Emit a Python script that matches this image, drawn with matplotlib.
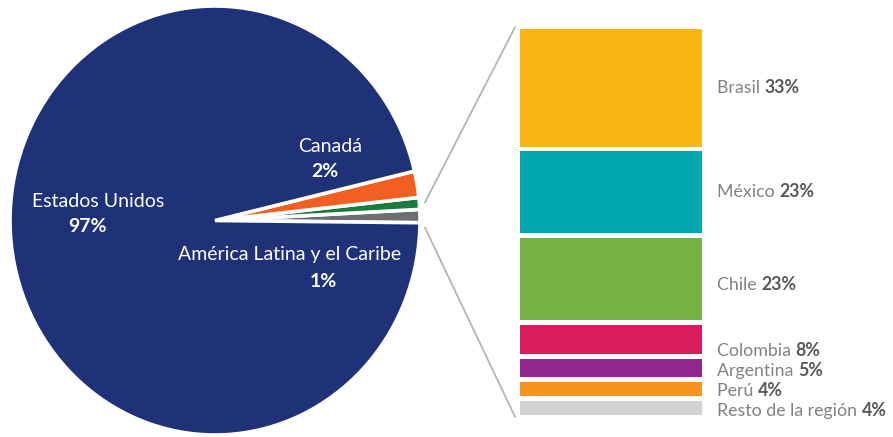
import matplotlib
matplotlib.use("Agg")
import matplotlib.pyplot as plt
from matplotlib.patches import ConnectionPatch

plt.rcParams['font.family'] = ['Lato', 'DejaVu Sans']

# pie: share by region (counterclockwise from the right)
pie_names = ["América Latina y el Caribe", "", "Canadá", "Estados Unidos"]
pie_values = [1, 0.9, 2, 97]
pie_pcts = ["1%", "", "2%", "97%"]
pie_colors = ["#6d6e71", "#1b7a3e", "#f15f22", "#1f3278"]

# breakdown of América Latina y el Caribe
bar_names = ["Brasil", "México", "Chile", "Colombia", "Argentina", "Perú", "Resto de la región"]
bar_values = [33, 23, 23, 8, 5, 4, 4]
bar_colors = ["#fbb616", "#02a6ae", "#76b243", "#da1c5a", "#92278f", "#f7941d", "#d1d3d4"]

W, H = 893, 437
fig = plt.figure(figsize=(W / 100, H / 100), dpi=100)


def px_axes(x0, y0, x1, y1):
    return fig.add_axes([x0 / W, 1 - y1 / H, (x1 - x0) / W, (y1 - y0) / H])


ax_pie = px_axes(10, 6, 420, 435)
ax_pie.pie(pie_values, colors=pie_colors, startangle=-0.6,
           wedgeprops=dict(edgecolor="white", linewidth=2.6))
ax_pie.set_xlim(-1, 1)
ax_pie.set_ylim(-1, 1)
ax_pie.set_aspect("auto")
ax_pie.axis("off")

txt = dict(color="white", fontsize=14, ha="center", va="center")
ax_pie.text(-0.57, 0.09, pie_names[3], **txt)
ax_pie.text(-0.62, -0.03, pie_pcts[3], fontweight="bold", **txt)
ax_pie.text(0.56, 0.345, pie_names[2], **txt)
ax_pie.text(0.537, 0.228, pie_pcts[2], fontweight="bold", **txt)
ax_pie.text(0.366, -0.159, pie_names[0], **txt)
ax_pie.text(0.527, -0.284, pie_pcts[0], fontweight="bold", **txt)

# stacked bar
ax_bar = px_axes(520, 29, 702, 415)
gap = 1.4
bottoms = []
b = 0
for v in bar_values:
    bottoms.append(b)
    b += v + gap
total = b - gap
for v, b0, c in zip(bar_values, bottoms, bar_colors):
    ax_bar.bar(0, v, bottom=b0, width=1, color=c, edgecolor="none")
ax_bar.set_xlim(-0.5, 0.5)
ax_bar.set_ylim(total, 0)
ax_bar.axis("off")

tr = ax_bar.get_yaxis_transform()
n_small = 4
for i, (name, v, b0) in enumerate(zip(bar_names, bar_values, bottoms)):
    if i < len(bar_names) - n_small:
        y = b0 + v / 2 + (1.5 if i == 2 else 0)
    else:
        k = len(bar_names) - 1 - i
        y = total - 1.2 - k * 5.6
    t = ax_bar.text(1.082, y, name + " ", transform=tr, color="#808285",
                    fontsize=12.8, ha="left", va="center", clip_on=False)
    ax_bar.annotate(f"{v}%", xy=(1, 0), xycoords=t, xytext=(0, 0),
                    textcoords="offset points", ha="left", va="bottom",
                    color="#58595b", fontsize=12.8, fontweight="bold")

# connector lines
for ya, yb in [(0.084, 1.005), (-0.033, -0.005)]:
    con = ConnectionPatch(xyA=(1.024, ya), coordsA=ax_pie.transData,
                          xyB=(-0.027, yb), coordsB=ax_bar.transAxes,
                          color="#b5b5b5", lw=1.3)
    fig.add_artist(con)

fig.savefig("out.png", dpi=100, facecolor="white")
